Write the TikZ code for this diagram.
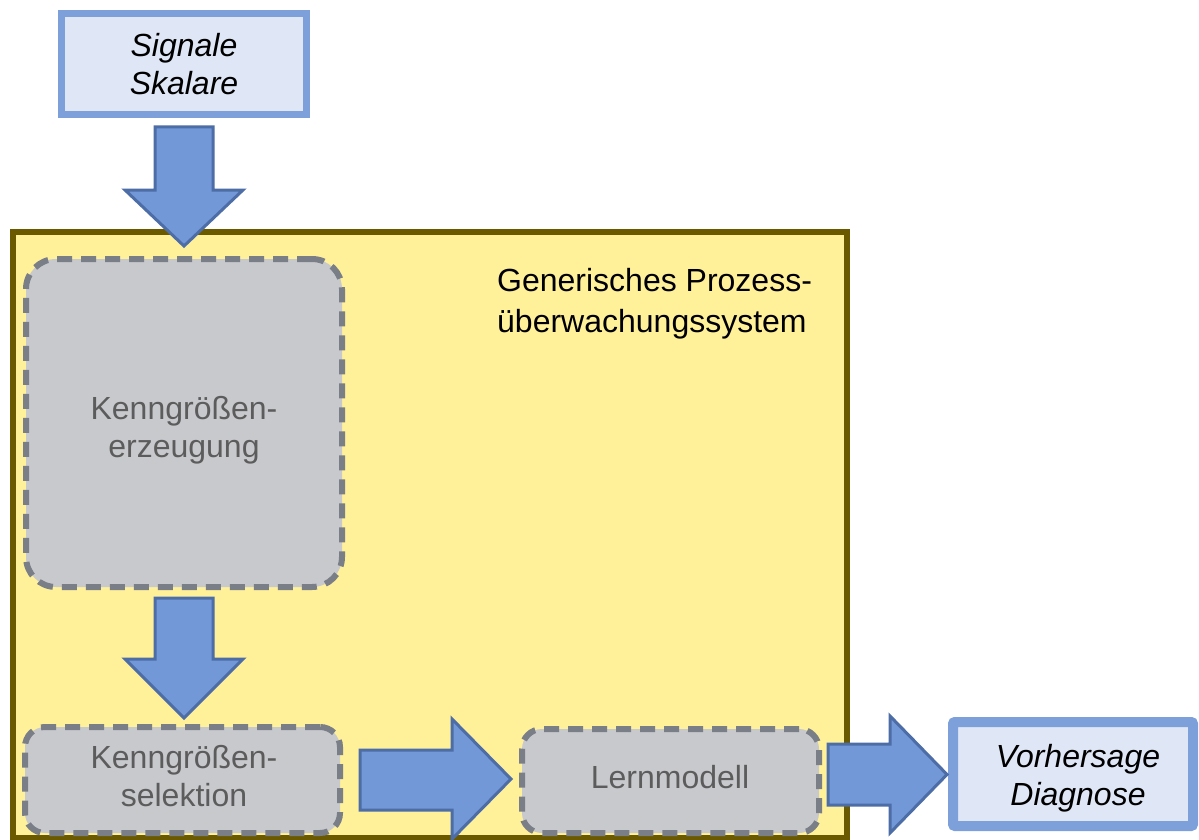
\documentclass[tikz,border=0pt]{standalone}
\usepackage{fontspec}
\setmainfont{Liberation Sans}
\definecolor{boxline}{HTML}{7D9FDA}
\definecolor{boxfill}{HTML}{DFE6F5}
\definecolor{arrowfill}{HTML}{7298D7}
\definecolor{arrowline}{HTML}{4D6DA6}
\definecolor{sysfill}{HTML}{FFF09A}
\definecolor{sysline}{HTML}{6B5900}
\definecolor{grayfill}{HTML}{C8C9CD}
\definecolor{dashgray}{HTML}{7A7E87}
\definecolor{graytext}{HTML}{5C5C5C}
\begin{document}
\begin{tikzpicture}[x=1pt,y=-1pt,
  txt/.style={font=\fontsize{32}{37.5}\selectfont, align=center, inner sep=0pt},
  iobox/.style={txt, draw=boxline, fill=boxfill, line width=7pt, font=\fontsize{32}{37.5}\selectfont\itshape},
  stagebox/.style={txt, draw=dashgray, fill=grayfill, line width=6pt,
    dash pattern=on 15pt off 9pt, text=graytext},
  blockarrow/.style={draw=arrowline, fill=arrowfill, line width=3pt, line join=miter}]
\useasboundingbox (0,0) rectangle (1199,840);

% input
\node[iobox, minimum width=245pt, minimum height=101pt] (in) at (184,64) {Signale\\Skalare};

% process monitoring system frame
\node[draw=sysline, fill=sysfill, line width=6pt, minimum width=834pt, minimum height=606pt, inner sep=0pt] (sys) at (430,535) {};
\node[txt, align=left, anchor=north west, font=\fontsize{32}{41}\selectfont] (title) at (497,268) {Generisches Prozess-\\überwachungssystem};

% stages
\node[stagebox, rounded corners=30pt, minimum width=316pt, minimum height=328pt] (gen) at (184,423) {};
\node[txt, text=graytext] (gentext) at (184,430) {Kenngrößen-\\erzeugung};
\node[stagebox, rounded corners=20pt, minimum width=315pt, minimum height=106pt] (sel) at (182.5,780) {};
\node[txt, text=graytext] (seltext) at (184,776) {Kenngrößen-\\selektion};
\node[stagebox, rounded corners=20pt, minimum width=297pt, minimum height=104pt] (learn) at (670.5,781) {};
\node[txt, text=graytext] (learntext) at (670,777) {Lernmodell};

% output
\node[iobox, rounded corners=2pt, line width=10pt, minimum width=240pt, minimum height=104pt] (out) at (1073,774) {};
\node[txt, font=\fontsize{32}{37.5}\selectfont\itshape] (outtext) at (1078,778) {Vorhersage\\Diagnose};

% block arrows
\draw[blockarrow] (155,127) -- (213,127) -- (213,190) -- (243,190) -- (184,246) -- (125,190) -- (155,190) -- cycle;
\draw[blockarrow] (155,598) -- (213,598) -- (213,659) -- (243,659) -- (184,718) -- (125,659) -- (155,659) -- cycle;
\draw[blockarrow] (360,750) -- (452,750) -- (452,719) -- (511,779) -- (452,839) -- (452,810) -- (360,810) -- cycle;
\draw[blockarrow] (828,744) -- (890,744) -- (890,716) -- (947,774.5) -- (890,833) -- (890,805) -- (828,805) -- cycle;
\end{tikzpicture}
\end{document}
